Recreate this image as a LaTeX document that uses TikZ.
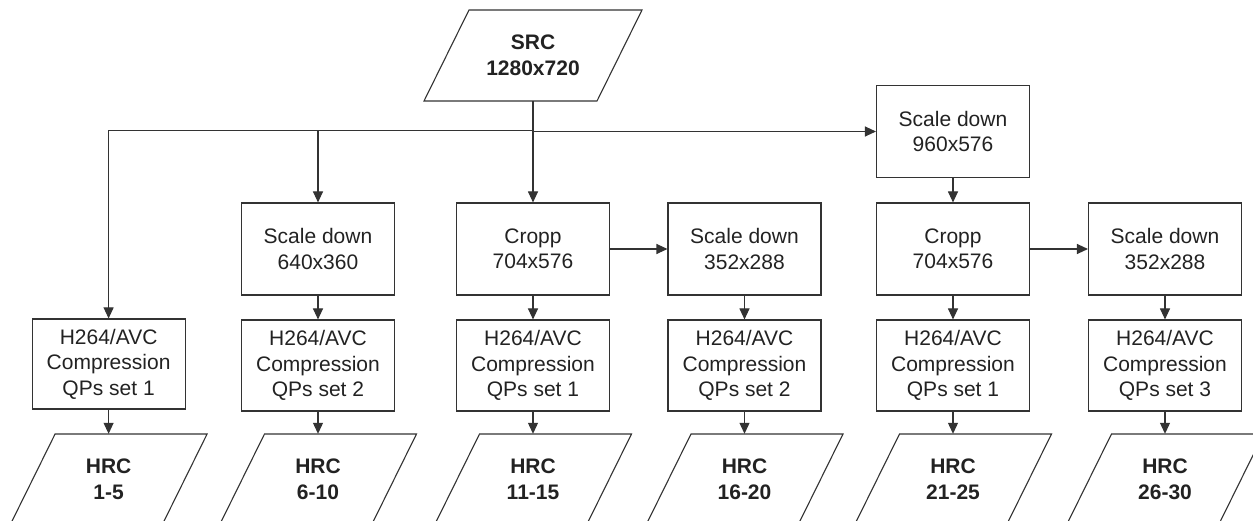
\documentclass[tikz,border=0pt]{standalone}
\usepackage{fontspec}
\setmainfont{Liberation Sans}
\usetikzlibrary{arrows.meta,calc}
\definecolor{linec}{HTML}{333333}
\definecolor{txtc}{HTML}{222222}
\newcommand\paral[3]{\draw[line] ($(#1)+(-#3+#2,-45.5)$) -- ($(#1)+(#3+#2,-45.5)$) -- ($(#1)+(#3-#2,45.5)$) -- ($(#1)+(-#3-#2,45.5)$) -- cycle;}
\begin{document}
\begin{tikzpicture}[x=1pt,y=-1pt,
  line/.style={draw=linec, line width=1.1pt},
  box/.style={line, minimum width=153pt, minimum height=92pt, inner sep=0pt, align=center, text=txtc, font=\fontsize{21}{25.5}\selectfont},
  io/.style={minimum height=91pt, minimum width=100pt, inner sep=0pt, align=center, text=txtc, font=\fontsize{21}{25.5}\selectfont\bfseries},
  arr/.style={line, -{Triangle[length=11pt,width=10pt]}}]
\useasboundingbox (0,0) rectangle (1253,521);
\clip (0,0) rectangle (1253,521);
% source
\node[io] (src) at (533,55.5) {SRC\\1280x720};
\paral{src}{22.5}{86.5}
% row 1
\node[box] (s960) at (953,131.5) {Scale down\\960x576};
% row 2
\node[box] (s640) at (318,249) {Scale down\\640x360};
\node[box] (c1) at (533,249) {Cropp\\704x576};
\node[box] (s352a) at (744.5,249) {Scale down\\352x288};
\node[box] (c2) at (953,249) {Cropp\\704x576};
\node[box] (s352b) at (1165,249) {Scale down\\352x288};
% row 3
\node[box, minimum height=90pt] (h1) at (108.6,364) {H264/AVC\\Compression\\QPs set 1};
\node[box, minimum height=91pt] (h2) at (318,365.5) {H264/AVC\\Compression\\QPs set 2};
\node[box, minimum height=91pt] (h3) at (533,365.5) {H264/AVC\\Compression\\QPs set 1};
\node[box, minimum height=91pt] (h4) at (744.5,365.5) {H264/AVC\\Compression\\QPs set 2};
\node[box, minimum height=91pt] (h5) at (953,365.5) {H264/AVC\\Compression\\QPs set 1};
\node[box, minimum height=91pt] (h6) at (1165,365.5) {H264/AVC\\Compression\\QPs set 3};
% row 4
\node[io] (r1) at (108.6,479.5) {HRC\\1-5};
\node[io] (r2) at (318,479.5) {HRC\\6-10};
\node[io] (r3) at (533,479.5) {HRC\\11-15};
\node[io] (r4) at (744.5,479.5) {HRC\\16-20};
\node[io] (r5) at (953,479.5) {HRC\\21-25};
\node[io] (r6) at (1165,479.5) {HRC\\26-30};
\foreach \n in {r1,r2,r3,r4,r5,r6}{\paral{\n}{22.5}{76}}
% connectors
\coordinate (j) at ($(src.south)+(0,29)$);
\draw[arr] (src.south) -- (c1.north);
\draw[arr] (j) -| (h1.north);
\draw[arr] (j -| s640.north) -- (s640.north);
\draw[arr] (src.south |- s960.west) -- (s960.west);
\draw[arr] (s960.south) -- (c2.north);
\draw[arr] (c1.east) -- (s352a.west);
\draw[arr] (c2.east) -- (s352b.west);
\draw[arr] (s640.south) -- (h2.north);
\draw[arr] (c1.south) -- (h3.north);
\draw[arr] (s352a.south) -- (h4.north);
\draw[arr] (c2.south) -- (h5.north);
\draw[arr] (s352b.south) -- (h6.north);
\foreach \i in {1,...,6}{\draw[arr] (h\i.south) -- (r\i.north);}
\end{tikzpicture}
\end{document}
